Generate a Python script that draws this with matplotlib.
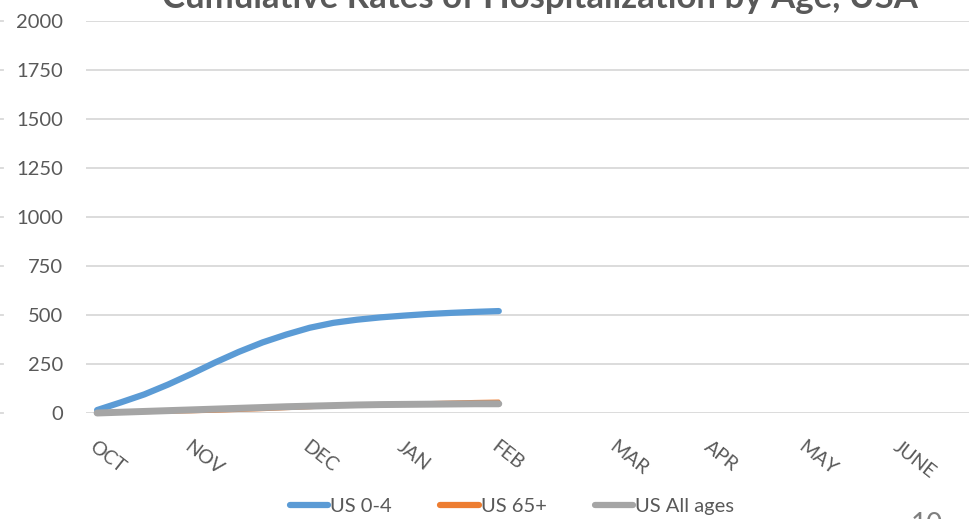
import matplotlib.pyplot as plt
import matplotlib.transforms as mtrans
from matplotlib.lines import Line2D

# weekly cumulative rates, week 0 = start of October
weeks = list(range(18))
us_0_4 = [15, 54, 95, 145, 200, 258, 312, 360, 400, 435, 460, 476, 488, 497, 505, 511, 516, 520]
us_65 = [0, 1, 2, 4, 6, 9, 13, 17, 22, 27, 33, 39, 44, 49, 53, 56, 59, 61]
us_all = [0, 4, 8, 12, 16, 20, 24, 28, 32, 35, 38, 41, 43, 44, 45, 46, 47, 47]

month_weeks = [0, 4, 9, 13, 17, 22, 26, 30, 34]
month_labels = ["OCT", "NOV", "DEC", "JAN", "FEB", "MAR", "APR", "MAY", "JUNE"]
y_ticks = [0, 250, 500, 750, 1000, 1250, 1500, 1750, 2000]

text_col = "#595959"
plt.rcParams['font.family'] = ['Lato', 'DejaVu Sans']

fig = plt.figure(figsize=(9.69, 5.19), dpi=100)
ax = fig.add_axes([86/969, 1-413/519, 1-86/969, (413-21)/519])

ax.plot(weeks, us_0_4, color="#5B9BD5", lw=4.5, solid_capstyle="round", clip_on=False, zorder=3)
ax.plot(weeks, us_65, color="#ED7D31", lw=2.2, solid_capstyle="round", clip_on=False, zorder=3)
ax.plot(weeks, us_all, color="#A5A5A5", lw=5, solid_capstyle="round", clip_on=False, zorder=4)

ax.set_xlim(-0.47, 36.9)
ax.set_ylim(0, 2000)
ax.set_yticks(y_ticks)
ax.set_yticklabels([str(v) for v in y_ticks], fontsize=14.5, color=text_col)
ax.set_xticks(month_weeks)
ax.set_xticklabels(month_labels, fontsize=14, color=text_col, rotation=-38,
                   ha="left", va="top", rotation_mode="anchor")
ax.tick_params(axis="y", length=0, pad=16.5)
ax.tick_params(axis="x", length=0, pad=18)
ax.grid(axis="y", color="#D9D9D9", lw=1.3)
ax.set_axisbelow(True)
for s in ax.spines.values():
    s.set_visible(False)

# little tick stubs of a neighbouring chart at the left edge
tr = mtrans.blended_transform_factory(fig.transFigure, ax.transData)
for v in y_ticks:
    fig.add_artist(Line2D([0, 3/969], [v, v], transform=tr, color="#D9D9D9", lw=1.3))

fig.text(540/969, 1 - 8/519, "Cumulative Rates of Hospitalization by Age, USA",
         ha="center", va="baseline", fontsize=25, fontweight="bold", color=text_col)

handles = [Line2D([], [], color="#5B9BD5", lw=4.5, solid_capstyle="round"),
           Line2D([], [], color="#ED7D31", lw=4.5, solid_capstyle="round"),
           Line2D([], [], color="#A5A5A5", lw=4.5, solid_capstyle="round")]
fig.legend(handles, ["US 0-4", "US 65+", "US All ages"], loc="center",
           bbox_to_anchor=(512/969, 1-506/519), ncol=3, frameon=False,
           fontsize=14.5, handlelength=1.9, handletextpad=0.1, columnspacing=2.4,
           labelcolor=text_col)

fig.text(927/969, 1-512/519, "10", ha="center", va="top", fontsize=20, color="#7F7F7F")

fig.savefig("out.png", dpi=100)
